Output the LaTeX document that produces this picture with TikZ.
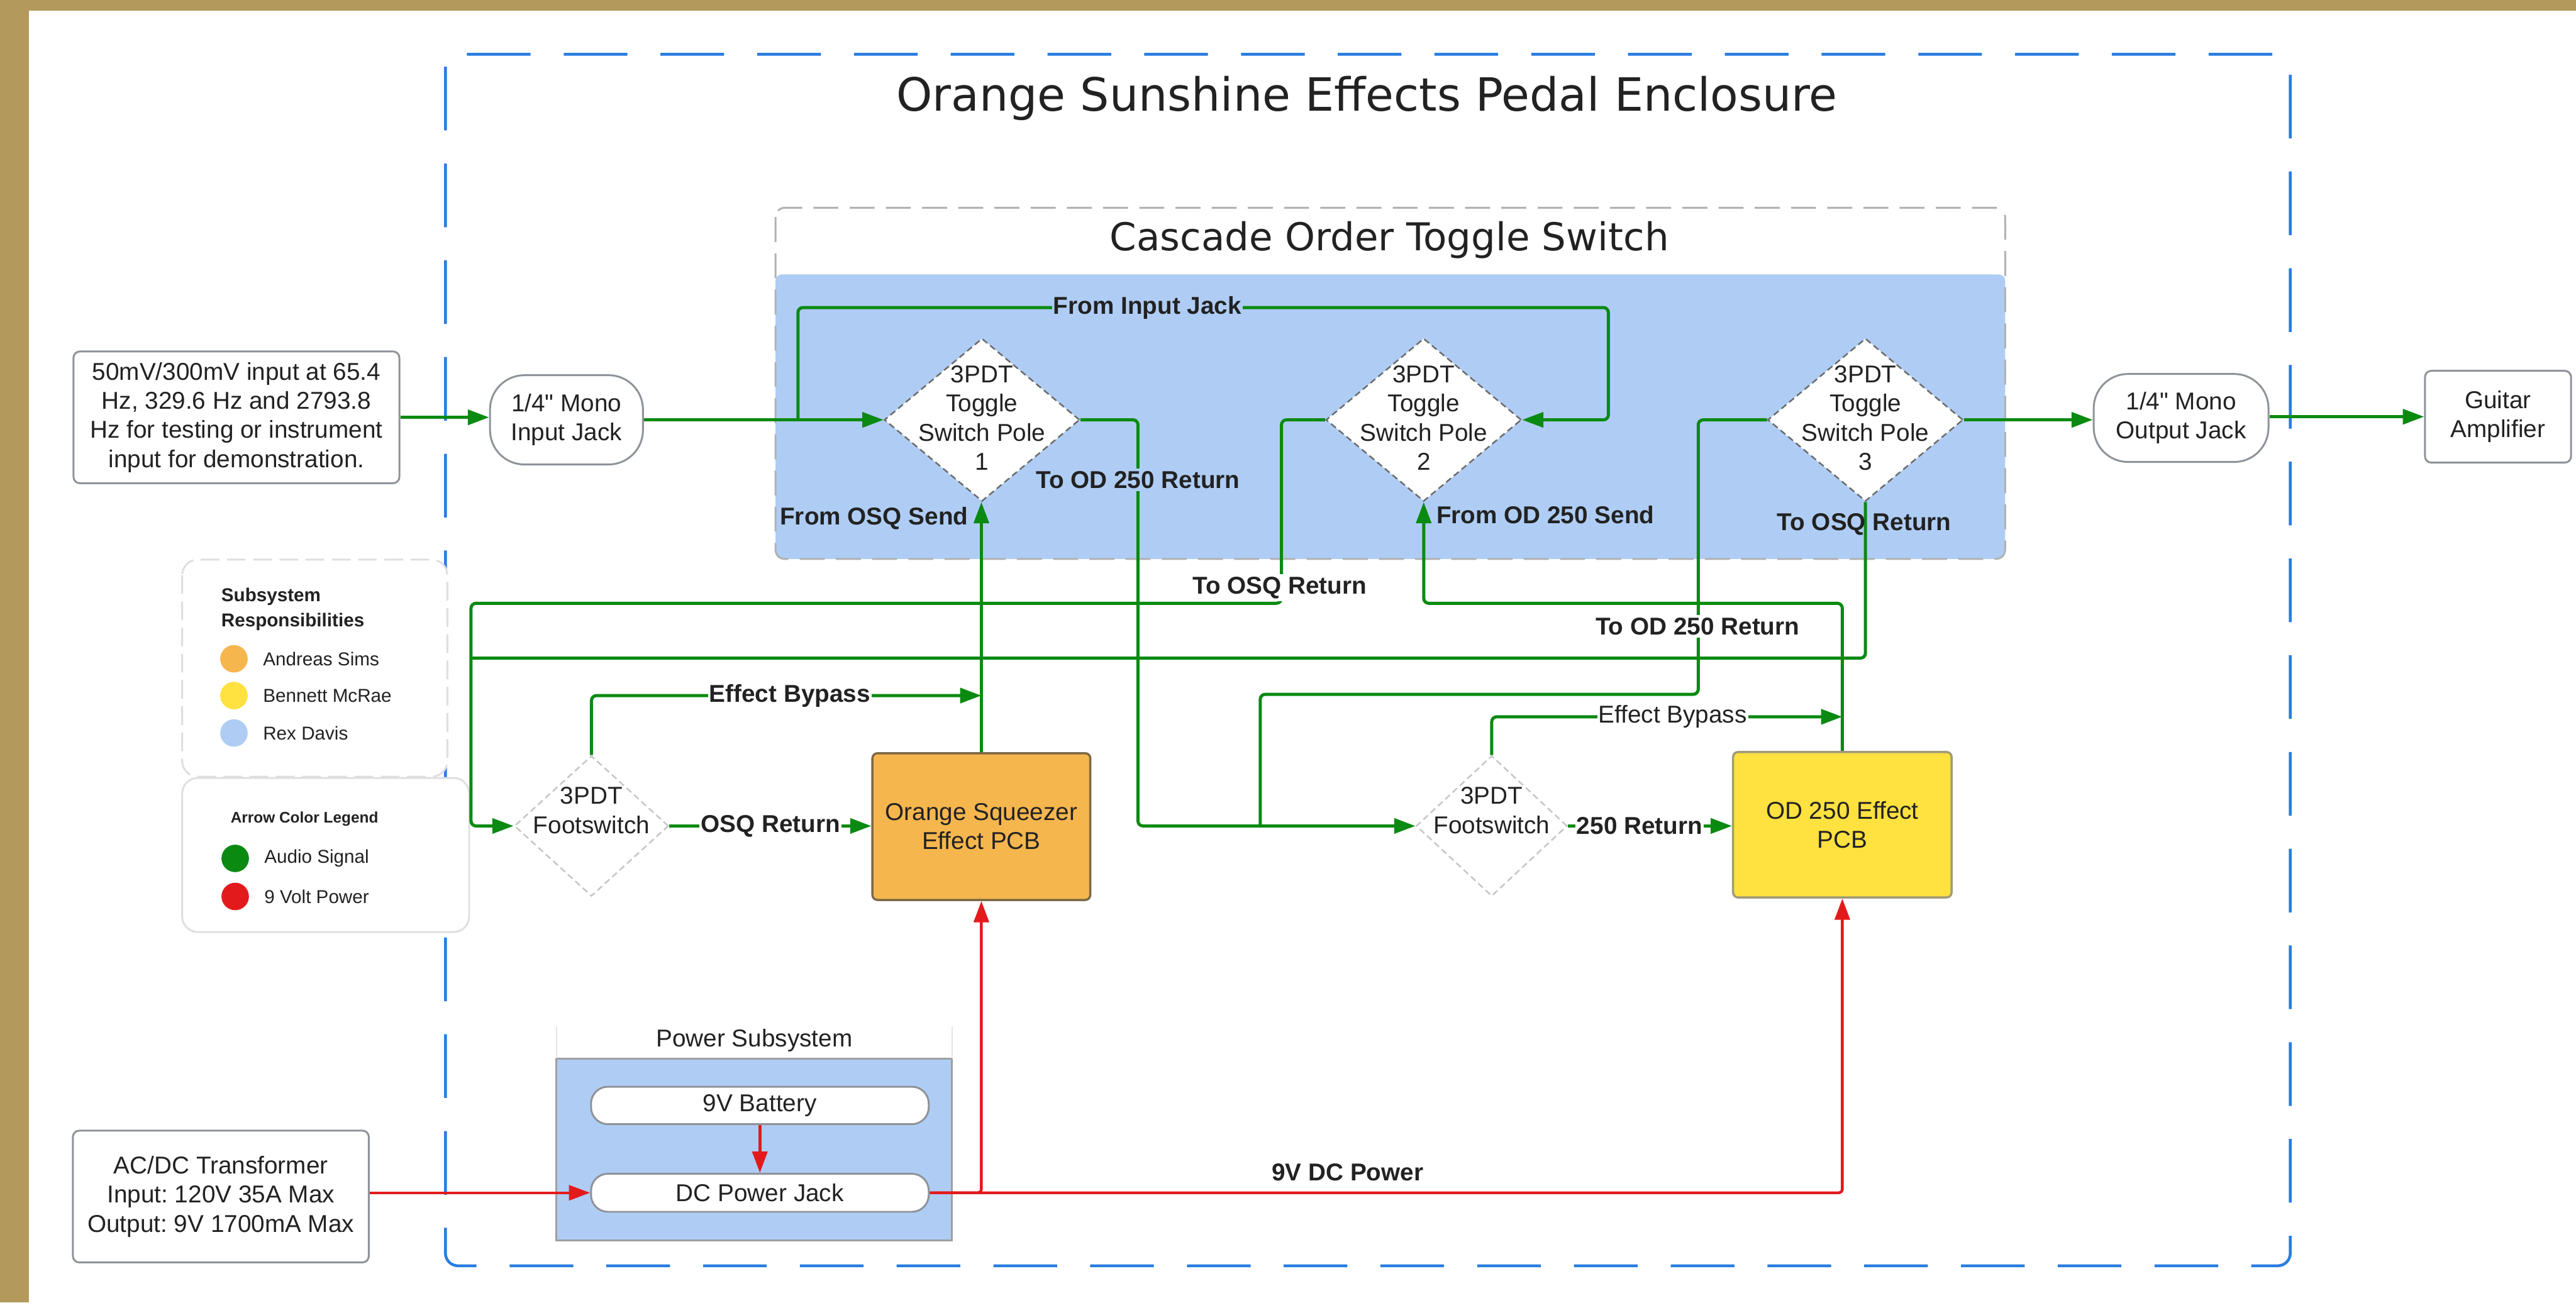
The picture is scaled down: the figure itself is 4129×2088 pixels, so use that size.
\documentclass[tikz,border=0pt]{standalone}
\usepackage{fontspec}
\setmainfont{Liberation Sans}
\newfontfamily\ttlfont{DejaVu Sans}
\newfontfamily\qf{Liberation Sans}
\usetikzlibrary{shapes.geometric,arrows.meta}
\definecolor{gold}{RGB}{179,153,91}
\definecolor{encblue}{HTML}{2A7DE1}
\definecolor{casblue}{HTML}{AFCDF4}
\definecolor{sig}{HTML}{0B8A12}
\definecolor{pwr}{HTML}{E31A1C}
\definecolor{bordgray}{HTML}{8E9399}
\definecolor{osqorange}{HTML}{F6B64E}
\definecolor{odyellow}{HTML}{FFE13F}
\definecolor{txtc}{HTML}{222222}
\pgfdeclarelayer{back}
\pgfdeclarelayer{wires}
\pgfsetlayers{back,wires,main}
\frenchspacing
\newcommand\fsmain{\fontsize{11.1}{13.3}\selectfont}
\newcommand\fslegend{\fontsize{8.5}{11.4}\selectfont}
\newcommand\sq{{\qf\char34}}
\tikzset{
  box/.style={draw=bordgray, line width=0.03cm, fill=white, rounded corners=0.1cm, align=center, font=\fsmain, text=txtc, inner sep=0},
  jack/.style={box, rounded corners=0.55cm},
  pill/.style={box, rounded corners=0.27cm},
  tog/.style={diamond, draw=gray!85!black, fill=white, line width=0.025cm, inner sep=0, dash pattern=on 0.1cm off 0.06cm},
  foot/.style={tog, draw=gray!45},
  pcb/.style={box, rounded corners=0.08cm, line width=0.035cm},
  txt/.style={align=center, font=\fsmain, text=txtc, inner sep=0},
  lbl/.style={font=\fsmain\bfseries, text=txtc, inner xsep=0.02cm, inner ysep=0.04cm},
  wire/.style={draw=sig, line width=0.05cm, rounded corners=0.08cm},
  pw/.style={draw=pwr, line width=0.045cm, rounded corners=0.06cm},
  arr/.style={-{Triangle[length=0.34cm,width=0.24cm]}},
  legtxt/.style={font=\fslegend, text=txtc, inner sep=0, anchor=west},
  dot/.style={circle, minimum size=0.44cm, inner sep=0},
}
\begin{document}
\begin{tikzpicture}[x=0.01cm,y=-0.01cm]
\useasboundingbox (0,0) rectangle (4129,2088);
\begin{pgfonlayer}{back}
\fill[white] (0,0) rectangle (4129,2088);
\fill[gold] (0,0) rectangle (4129,17);
\fill[gold] (0,0) rectangle (46,2088);
% enclosure
\draw[encblue, line width=0.045cm, dash pattern=on 1.02cm off 0.53cm, rounded corners=0.2cm] (714,87) rectangle (3671,2029);
% cascade box
\fill[casblue, rounded corners=0.1cm] (1243,440) rectangle (3214,896);
\draw[gray!60, line width=0.03cm, dash pattern=on 0.4cm off 0.18cm, rounded corners=0.15cm] (1243,333) rectangle (3214,896);
% power box
\fill[casblue] (892,1697) rectangle (1526,1988);
\draw[gray!75, line width=0.03cm] (892,1697) rectangle (1526,1988);
\draw[gray!20, line width=0.02cm] (892,1697) -- (892,1645);
\draw[gray!20, line width=0.02cm] (1526,1697) -- (1526,1645);
% legend boxes
\draw[gray!25, line width=0.03cm, dash pattern=on 0.3cm off 0.12cm, rounded corners=0.25cm, fill=white] (292,897) rectangle (717,1245);
\draw[gray!25, line width=0.03cm, rounded corners=0.25cm, fill=white] (292,1247) rectangle (752,1494);
\end{pgfonlayer}

% titles
\node[font=\ttlfont\fontsize{20.9}{25}\selectfont, text=txtc, inner sep=0] (enct) at (2191,158) {Orange Sunshine Effects Pedal Enclosure};
\node[font=\ttlfont\fontsize{17.5}{21}\selectfont, text=txtc, inner sep=0] (cast) at (2227,385) {Cascade Order Toggle Switch};
\node[txt] (pwt) at (1209,1668) {Power Subsystem};

% legend
\node[legtxt, font=\fslegend\bfseries, align=left] (lgt1) at (354,977) {Subsystem\\Responsibilities};
\node[dot, fill=osqorange] (d1) at (375,1056) {};
\node[legtxt] (n1) at (421,1056) {Andreas Sims};
\node[dot, fill=odyellow] (d2) at (375,1115) {};
\node[legtxt] (n2) at (421,1115) {Bennett McRae};
\node[dot, fill=casblue] (d3) at (375,1175) {};
\node[legtxt] (n3) at (421,1175) {Rex Davis};
\node[font=\fontsize{7}{8.4}\selectfont\bfseries, text=txtc, inner sep=0] (lgt2) at (488,1313) {Arrow Color Legend};
\node[dot, fill=sig] (d4) at (377,1376) {};
\node[legtxt] (n4) at (423,1376) {Audio Signal};
\node[dot, fill=pwr] (d5) at (377,1437) {};
\node[legtxt] (n5) at (423,1437) {9 Volt Power};

% nodes
\node[box, minimum width=5.22cm, minimum height=2.11cm] (desc) at (379,669) {50mV/300mV input at 65.4\\Hz, 329.6 Hz and 2793.8\\Hz for testing or instrument\\input for demonstration.};
\node[jack, minimum width=2.45cm, minimum height=1.43cm] (injack) at (908,673) {1/4\sq{} Mono\\Input Jack};
\node[tog, minimum width=3.13cm, minimum height=2.61cm] (p1) at (1574,673) {};
\node[txt] (p1t) at (1574,670) {3PDT\\Toggle\\Switch Pole\\1};
\node[tog, minimum width=3.13cm, minimum height=2.61cm] (p2) at (2282,673) {};
\node[txt] (p2t) at (2282,670) {3PDT\\Toggle\\Switch Pole\\2};
\node[tog, minimum width=3.13cm, minimum height=2.61cm] (p3) at (2990,673) {};
\node[txt] (p3t) at (2990,670) {3PDT\\Toggle\\Switch Pole\\3};
\node[jack, minimum width=2.80cm, minimum height=1.41cm] (outjack) at (3496,670) {1/4\sq{} Mono\\Output Jack};
\node[box, minimum width=2.34cm, minimum height=1.47cm] (amp) at (4004,668) {Guitar\\Amplifier};

\node[foot, minimum width=2.47cm, minimum height=2.25cm] (fs1) at (948,1324) {};
\node[txt] (fs1t) at (948,1299) {3PDT\\Footswitch};
\node[pcb, fill=osqorange, draw={rgb,255:red,125;green,105;blue,70}, minimum width=3.49cm, minimum height=2.35cm] (osq) at (1573,1325) {Orange Squeezer\\Effect PCB};
\node[foot, minimum width=2.42cm, minimum height=2.25cm] (fs2) at (2391,1324) {};
\node[txt] (fs2t) at (2391,1299) {3PDT\\Footswitch};
\node[pcb, fill=odyellow, draw={rgb,255:red,160;green,155;blue,120}, minimum width=3.50cm, minimum height=2.33cm] (od) at (2953,1322) {OD 250 Effect\\PCB};

\node[pill, minimum width=5.41cm, minimum height=0.60cm] (bat) at (1218,1772) {9V Battery};
\node[pill, minimum width=5.41cm, minimum height=0.61cm] (dcj) at (1218,1912) {DC Power Jack};
\node[box, minimum width=4.74cm, minimum height=2.11cm] (acdc) at (354,1918) {AC/DC Transformer\\Input: 120V 35A Max\\Output: 9V 1700mA Max};

% junction coordinates
\coordinate (split1) at (1279,673);
\coordinate (j1) at (755,1055);
\coordinate (j2) at (2020,1324);
\coordinate (b1) at (1573,1115);
\coordinate (b2) at (2953,1149);

\begin{pgfonlayer}{wires}
\draw[wire,arr] (desc.east |- 0,669) -- (injack.west |- 0,669);
\draw[wire,arr] (injack.east) -- (p1.west);
\draw[wire,arr] (split1) -- (1279,493) -- (2578,493) -- (2578,673) -- (p2.east);
\draw[wire,arr] (p1.east) -- (1824,673) -- (1824,1324) -- (fs2.west);
\draw[wire,arr] (p2.west) -- (2054,673) -- (2054,967) -- (755,967) -- (755,1324) -- (fs1.west);
\draw[wire] (p3.south) -- (2990,1055) -- (j1);
\draw[wire] (p3.west) -- (2722,673) -- (2722,1113) -- (2020,1113) -- (j2);
\draw[wire,arr] (osq.north) -- (osq.north |- p1.south);
\draw[wire,arr] (od.north) -- (2953,967) -- (2282,967) -- (p2.south);
\draw[wire,arr] (p3.east) -- (outjack.west |- p3.east);
\draw[wire,arr] (outjack.east |- 0,668) -- (amp.west |- 0,668);
\draw[wire,arr] (fs1.north) |- (b1);
\draw[wire,arr] (fs2.north) |- (b2);
\draw[wire,arr] (fs1.east) -- (osq.west |- fs1.east);
\draw[wire,arr] (fs2.east) -- (od.west |- fs2.east);
\draw[pw,arr] (acdc.east |- dcj.west) -- (dcj.west);
\draw[pw,arr] (bat.south) -- (dcj.north);
\draw[pw,arr] (dcj.east) -| (osq.south);
\draw[pw,arr] (dcj.east) -| (od.south);
\end{pgfonlayer}

% connector labels
\node[lbl, fill=casblue] (l1) at (1839,493) {From Input Jack};
\node[lbl, fill=casblue] (l2) at (1824,769) {To OD 250 Return};
\node[lbl] (l3) at (1401,831) {From OSQ Send};
\node[lbl] (l4) at (2477,825) {From OD 250 Send};
\node[lbl] (l5) at (2988,840) {To OSQ Return};
\node[lbl, fill=white] (l6) at (2051,942) {To OSQ Return};
\node[lbl, fill=white] (l7) at (2721,1004) {To OD 250 Return};
\node[lbl, fill=white] (l8) at (1266,1115) {Effect Bypass};
\node[lbl, fill=white] (l9) at (1235,1324) {OSQ Return};
\node[lbl, fill=white, font=\fsmain] (l10) at (2681,1149) {Effect Bypass};
\node[lbl, fill=white] (l11) at (2628,1324) {250 Return};
\node[lbl] (l12) at (2160,1879) {9V DC Power};
\end{tikzpicture}
\end{document}
